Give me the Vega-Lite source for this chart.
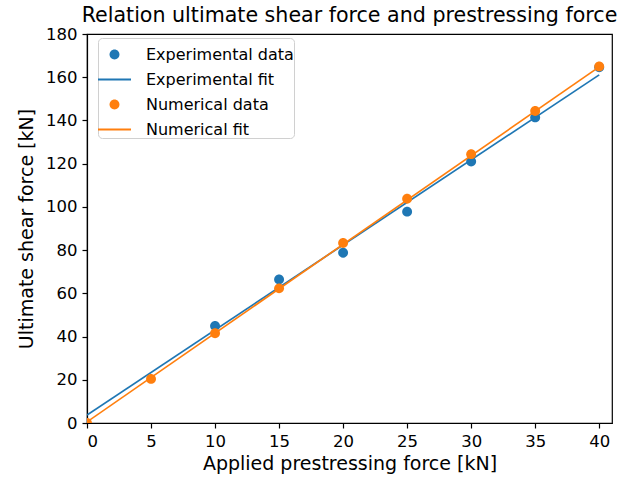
{
  "$schema": "https://vega.github.io/schema/vega-lite/v6.json",
  "width": 525,
  "height": 389,
  "autosize": "none",
  "padding": {"left": 87, "top": 34, "right": 7, "bottom": 57},
  "title": {
    "text": "Relation ultimate shear force and prestressing force",
    "font": "DejaVu Sans",
    "fontSize": 20.6,
    "fontWeight": "normal",
    "color": "black",
    "anchor": "middle",
    "offset": -1
  },
  "data": {
    "values": [
      {"series": "Experimental data", "force": 10, "shear": 44.9},
      {"series": "Experimental data", "force": 15, "shear": 66.4},
      {"series": "Experimental data", "force": 20, "shear": 78.8},
      {"series": "Experimental data", "force": 25, "shear": 97.8},
      {"series": "Experimental data", "force": 30, "shear": 121.0},
      {"series": "Experimental data", "force": 35, "shear": 141.4},
      {"series": "Experimental data", "force": 40, "shear": 164.6},
      {"series": "Experimental fit", "force": 0, "shear": 3.7},
      {"series": "Experimental fit", "force": 40, "shear": 161.1},
      {"series": "Numerical data", "force": 0, "shear": 0},
      {"series": "Numerical data", "force": 5, "shear": 20.4},
      {"series": "Numerical data", "force": 10, "shear": 41.5},
      {"series": "Numerical data", "force": 15, "shear": 62.3},
      {"series": "Numerical data", "force": 20, "shear": 83.3},
      {"series": "Numerical data", "force": 25, "shear": 103.8},
      {"series": "Numerical data", "force": 30, "shear": 124.4},
      {"series": "Numerical data", "force": 35, "shear": 144.4},
      {"series": "Numerical data", "force": 40, "shear": 165.0},
      {"series": "Numerical fit", "force": 0, "shear": 0.5},
      {"series": "Numerical fit", "force": 40, "shear": 164.8}
    ]
  },
  "encoding": {
    "x": {
      "field": "force",
      "type": "quantitative",
      "scale": {"domain": [0, 41], "nice": false, "zero": false},
      "axis": {"values": [0, 5, 10, 15, 20, 25, 30, 35, 40], "title": "Applied prestressing force [kN]"}
    },
    "y": {
      "field": "shear",
      "type": "quantitative",
      "scale": {"domain": [0, 180], "nice": false},
      "axis": {"values": [0, 20, 40, 60, 80, 100, 120, 140, 160, 180], "title": "Ultimate shear force [kN]"}
    }
  },
  "layer": [
    {
      "transform": [{"filter": "datum.series === 'Experimental data'"}],
      "mark": {"type": "point", "filled": true, "opacity": 1, "size": 1089, "clip": true},
      "encoding": {
        "color": {
          "field": "series", "type": "nominal",
          "scale": {
            "domain": ["Experimental data", "Experimental fit", "Numerical data", "Numerical fit"],
            "range": ["#1f77b4", "#1f77b4", "#ff7f0e", "#ff7f0e"]
          },
          "legend": {"title": null}
        },
        "shape": {
          "field": "series", "type": "nominal",
          "scale": {
            "domain": ["Experimental data", "Experimental fit", "Numerical data", "Numerical fit"],
            "range": [
              "M0.3,0A0.3,0.3 0 1,1 -0.3,0A0.3,0.3 0 1,1 0.3,0Z",
              "M-1,-0.055H1V0.055H-1Z",
              "M0.3,0A0.3,0.3 0 1,1 -0.3,0A0.3,0.3 0 1,1 0.3,0Z",
              "M-1,-0.055H1V0.055H-1Z"
            ]
          },
          "legend": {"title": null}
        }
      }
    },
    {
      "transform": [{"filter": "datum.series === 'Experimental fit'"}],
      "mark": {"type": "line", "color": "#1f77b4", "strokeWidth": 1.7, "clip": true},
      "encoding": {}
    },
    {
      "transform": [{"filter": "datum.series === 'Numerical data'"}],
      "mark": {"type": "point", "filled": true, "opacity": 1, "size": 1089, "clip": true},
      "encoding": {
        "color": {"field": "series", "type": "nominal", "legend": {"title": null}},
        "shape": {"field": "series", "type": "nominal", "legend": {"title": null}}
      }
    },
    {
      "transform": [{"filter": "datum.series === 'Numerical fit'"}],
      "mark": {"type": "line", "color": "#ff7f0e", "strokeWidth": 1.7, "clip": true},
      "encoding": {}
    }
  ],
  "config": {
    "font": "DejaVu Sans",
    "view": {"stroke": "black", "strokeWidth": 1.2},
    "axis": {
      "grid": false,
      "domainColor": "black",
      "domainWidth": 1.2,
      "tickColor": "black",
      "tickWidth": 1.2,
      "tickSize": 5,
      "labelColor": "black",
      "labelFont": "DejaVu Sans",
      "labelFontSize": 16.5,
      "labelPadding": 5,
      "titleColor": "black",
      "titleFont": "DejaVu Sans",
      "titleFontSize": 19,
      "titleFontWeight": "normal"
    },
    "axisX": {"titlePadding": 5},
    "axisY": {"titlePadding": 9},
    "legend": {
      "orient": "none",
      "legendX": 11,
      "legendY": 4,
      "padding": 0,
      "fillColor": "white",
      "strokeColor": "#d0d0d0",
      "cornerRadius": 4,
      "labelFont": "DejaVu Sans",
      "labelFontSize": 16,
      "labelColor": "black",
      "labelOffset": 15,
      "rowPadding": -1,
      "symbolSize": 1089,
      "symbolStrokeWidth": 0
    }
  }
}
